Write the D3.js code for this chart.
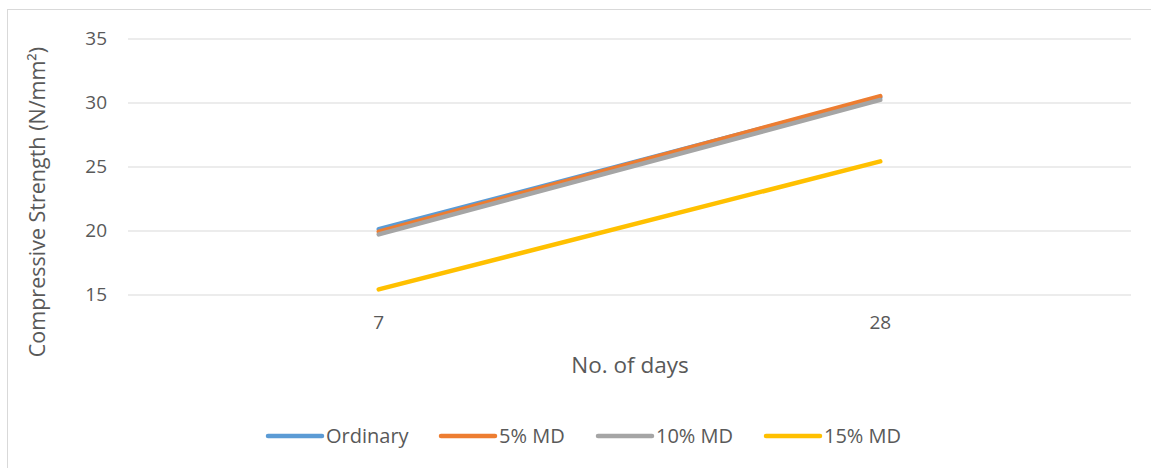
<!DOCTYPE html>
<html><head><meta charset="utf-8">
<script src="https://cdn.jsdelivr.net/npm/d3@7"></script>
<style>body{margin:0;background:#fff}svg{display:block;font-family:"Open Sans",sans-serif}</style>
</head><body><svg id="c" width="1151" height="468"></svg>
<script>
const categories = ["7", "28"];
const seriesNames = ["Ordinary", "5% MD", "10% MD", "15% MD"];
const ordinary = [20.1, 30.4];
const md5 = [19.9, 30.5];
const md10 = [19.7, 30.2];
const md15 = [15.4, 25.4];
const yTicks = [15, 20, 25, 30, 35];
const colors = ["#5B9BD5", "#ED7D31", "#A5A5A5", "#FFC000"];
const series = [ordinary, md5, md10, md15];

const svg = d3.select("#c");
svg.append("rect").attr("x",7.5).attr("y",9.5).attr("width",1160).attr("height",470)
  .attr("fill","none").attr("stroke","#d9d9d9");

const x = d3.scaleBand().domain(categories).range([128,1131]);
const y = d3.scaleLinear().domain([15,35]).range([294.5,38.5]);

const yAxis = svg.append("g").attr("transform","translate(128,0)")
  .call(d3.axisLeft(y).tickValues(yTicks).tickSize(-1003).tickPadding(21));
yAxis.select(".domain").remove();
yAxis.selectAll("line").attr("stroke","#d9d9d9").attr("stroke-width",1);
yAxis.selectAll("text").attr("fill","#595959").style("font-size","19px").style("font-family","Open Sans");

const xAxis = svg.append("g").attr("transform","translate(0,294.5)")
  .call(d3.axisBottom(x).tickSize(0).tickPadding(21));
xAxis.select(".domain").remove();
xAxis.selectAll("text").attr("fill","#595959").style("font-size","19px").style("font-family","Open Sans");

svg.append("text").attr("x",630).attr("y",373).attr("text-anchor","middle")
  .attr("fill","#595959").style("font-size","22.5px").text("No. of days");
svg.append("text").attr("transform","translate(45,202) rotate(-90)").attr("text-anchor","middle")
  .attr("fill","#595959").style("font-size","21.5px").text("Compressive Strength (N/mm²)");

const line = d3.line().x((d,i)=>x(categories[i])+x.bandwidth()/2).y(d=>y(d));
series.forEach((s,i)=>{
  svg.append("path").datum(s).attr("d",line).attr("fill","none")
    .attr("stroke",colors[i]).attr("stroke-width",4.5).attr("stroke-linecap","round");
});

const legX = [268, 441, 598, 766];
seriesNames.forEach((n,i)=>{
  const g = svg.append("g").attr("transform",`translate(${legX[i]},436)`);
  g.append("line").attr("x1",0).attr("x2",54).attr("stroke",colors[i]).attr("stroke-width",4.5).attr("stroke-linecap","round");
  g.append("text").attr("x",58).attr("y",7).attr("fill","#595959").style("font-size","20px").text(n);
});
</script></body></html>
